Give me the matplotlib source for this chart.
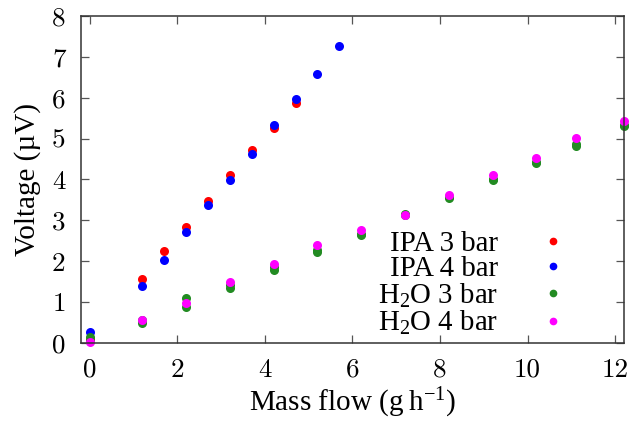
import matplotlib
matplotlib.use("Agg")
import matplotlib.pyplot as plt
from matplotlib.font_manager import FontProperties

# data
ipa3_x = [0.0, 1.2, 1.7, 2.2, 2.7, 3.2, 3.7, 4.2, 4.7]
ipa3_v = [0.10, 1.57, 2.24, 2.83, 3.47, 4.10, 4.71, 5.27, 5.87]

ipa4_x = [0.0, 1.2, 1.7, 2.2, 2.7, 3.2, 3.7, 4.2, 4.7, 5.2, 5.7]
ipa4_v = [0.27, 1.40, 2.03, 2.71, 3.38, 3.98, 4.62, 5.33, 5.97, 6.59, 7.26]

# two runs per flow for water at 3 bar
h2o3_x = [0.0, 0.0, 1.2, 1.2, 2.2, 2.2, 3.2, 3.2, 4.2, 4.2, 5.2, 5.2, 6.2, 6.2,
          7.2, 7.2, 8.2, 8.2, 9.2, 9.2, 10.2, 10.2, 11.1, 11.1, 12.2, 12.2]
h2o3_v = [0.14, 0.06, 0.56, 0.48, 1.10, 0.89, 1.42, 1.34, 1.86, 1.79, 2.28, 2.22,
          2.67, 2.63, 3.15, 3.12, 3.57, 3.54, 4.02, 3.98, 4.43, 4.40, 4.88, 4.83,
          5.33, 5.30]

h2o4_x = [0.0, 1.2, 2.2, 3.2, 4.2, 5.2, 6.2, 7.2, 8.2, 9.2, 10.2, 11.1, 12.2]
h2o4_v = [0.03, 0.55, 0.99, 1.50, 1.93, 2.40, 2.76, 3.14, 3.62, 4.11, 4.52, 5.02, 5.43]

x_ticks = [0, 2, 4, 6, 8, 10, 12]
y_ticks = [0, 1, 2, 3, 4, 5, 6, 7, 8]

# tick numbers in computer modern, labels and legend in a times-like font
plt.rcParams["font.family"] = ["cmr10"]
plt.rcParams["axes.formatter.use_mathtext"] = False
plt.rcParams["mathtext.fontset"] = "custom"
plt.rcParams["mathtext.rm"] = "Liberation Serif"
plt.rcParams["mathtext.it"] = "Liberation Serif:italic"

fig = plt.figure(figsize=(6.29, 4.25), dpi=100)
ax = fig.add_axes([0.1288, 0.193, 0.8632, 0.7694])

ms = 6.5
ax.plot(ipa3_x, ipa3_v, "o", color="#ff0000", ms=ms, mew=0, label="IPA 3 bar", clip_on=False)
ax.plot(ipa4_x, ipa4_v, "o", color="#0000ff", ms=ms, mew=0, label="IPA 4 bar", clip_on=False)
ax.plot(h2o3_x, h2o3_v, "o", color="#228b22", ms=ms, mew=0, label=r"H$_2$O 3 bar", clip_on=False)
ax.plot(h2o4_x, h2o4_v, "o", color="#ff00ff", ms=ms, mew=0, label=r"H$_2$O 4 bar", clip_on=False)

ax.set_xlim(-0.2, 12.2)
ax.set_ylim(0, 8)
ax.set_xticks(x_ticks)
ax.set_yticks(y_ticks)
ax.set_xticklabels([str(t) for t in x_ticks])
ax.set_yticklabels([str(t) for t in y_ticks])

for s in ax.spines.values():
    s.set_linewidth(1.1)
    s.set_color("#333333")
ax.tick_params(direction="in", length=5.8, width=0.9, color="#555555",
               top=True, right=True, labelsize=19.5, pad=11)

lab_font = FontProperties(family="Liberation Serif", size=21, math_fontfamily="custom")
ax.set_xlabel(r"Mass flow (g$\;$h$^{-1}$)", fontproperties=lab_font, labelpad=3)
ax.set_ylabel("Voltage (\u00b5V)", fontproperties=lab_font, labelpad=8)

leg_font = FontProperties(family="Liberation Serif", size=20.8, math_fontfamily="custom")
ax.legend(loc="lower right", bbox_to_anchor=(582 / 629, 1 - 337 / 425),
          bbox_transform=fig.transFigure, frameon=False, markerfirst=False,
          numpoints=1, handlelength=2.0, handletextpad=0.9, labelspacing=-0.03,
          borderpad=0, borderaxespad=0, markerscale=0.85, prop=leg_font)

fig.savefig("out.png", dpi=100)
